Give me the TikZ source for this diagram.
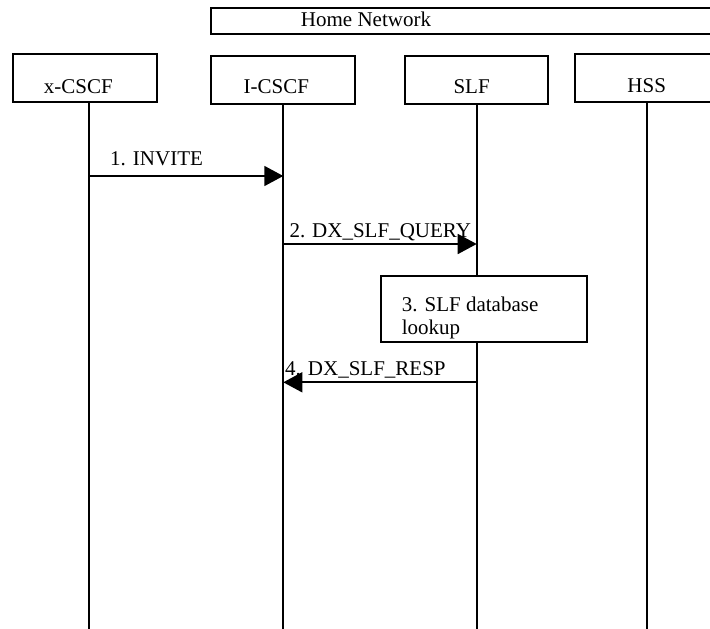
\documentclass[tikz,border=0pt]{standalone}
\usepackage{fontspec}
\setmainfont{Liberation Serif}
\usetikzlibrary{arrows.meta}
\begin{document}
\begin{tikzpicture}[x=1pt,y=-1pt,
  ebox/.style={draw, line width=1.8pt, fill=white, inner sep=0pt},
  lbl/.style={inner sep=0pt, anchor=base, font=\fontsize{21}{23}\selectfont},
  lblw/.style={inner sep=0pt, anchor=base west, font=\fontsize{21}{23}\selectfont},
  lline/.style={line width=1.8pt},
  msg/.style={line width=1.7pt, -{Triangle[length=19pt,width=20pt]}}]
\useasboundingbox (0,0) rectangle (710,629);
\fill[white] (0,0) rectangle (710,629);
% header boxes
\node[ebox, minimum width=519.3pt, minimum height=26pt] (home) at (470.35,21.3) {};
\node[ebox, minimum width=144pt, minimum height=47.7pt] (xcscf) at (84.7,77.85) {};
\node[ebox, minimum width=144pt, minimum height=48pt] (icscf) at (283.3,80) {};
\node[ebox, minimum width=142.4pt, minimum height=48pt] (slf) at (476.5,80) {};
\node[ebox, minimum width=144pt, minimum height=48.3pt] (hss) at (647,78.15) {};
\node[lbl] (thome) at (366,27) {Home Network};
\node[lbl] (txcscf) at (78.3,93.3) {x-CSCF};
\node[lbl] (ticscf) at (276.3,93.3) {I-CSCF};
\node[lbl] (tslf) at (471.6,93.3) {SLF};
\node[lbl] (thss) at (646.7,92.7) {HSS};
% lifelines
\coordinate (xl) at (89,629);
\coordinate (il) at (283.3,629);
\coordinate (sl) at (476.7,629);
\coordinate (hl) at (647.3,629);
\draw[lline] (xl |- xcscf.south) -- (xl);
\draw[lline] (il |- icscf.south) -- (il);
\draw[lline] (sl |- slf.south) -- (sl);
\draw[lline] (hl |- hss.south) -- (hl);
% message 1
\coordinate (m1a) at (89,176);
\coordinate (m1b) at (283.3,176);
\node[lblw] (l1) at (110,165) {1. INVITE};
\draw[msg] (m1a) -- (m1b);
% message 2
\coordinate (m2a) at (283.3,244);
\coordinate (m2b) at (476.7,244);
\node[lblw] (l2) at (289.3,237.3) {2. DX\_SLF\_QUERY};
\draw[msg] (m2a) -- (m2b);
% step 3
\node[ebox, minimum width=205.7pt, minimum height=65.7pt] (db) at (483.85,308.85) {};
\node[lblw] (l3a) at (401.7,311) {3. SLF database};
\node[lblw] (l3b) at (401.7,334) {lookup};
% message 4
\coordinate (m4a) at (476.7,382.3);
\coordinate (m4b) at (283.3,382.3);
\node[lblw] (l4) at (285,375.3) {4. DX\_SLF\_RESP};
\draw[msg] (m4a) -- (m4b);
\end{tikzpicture}
\end{document}
